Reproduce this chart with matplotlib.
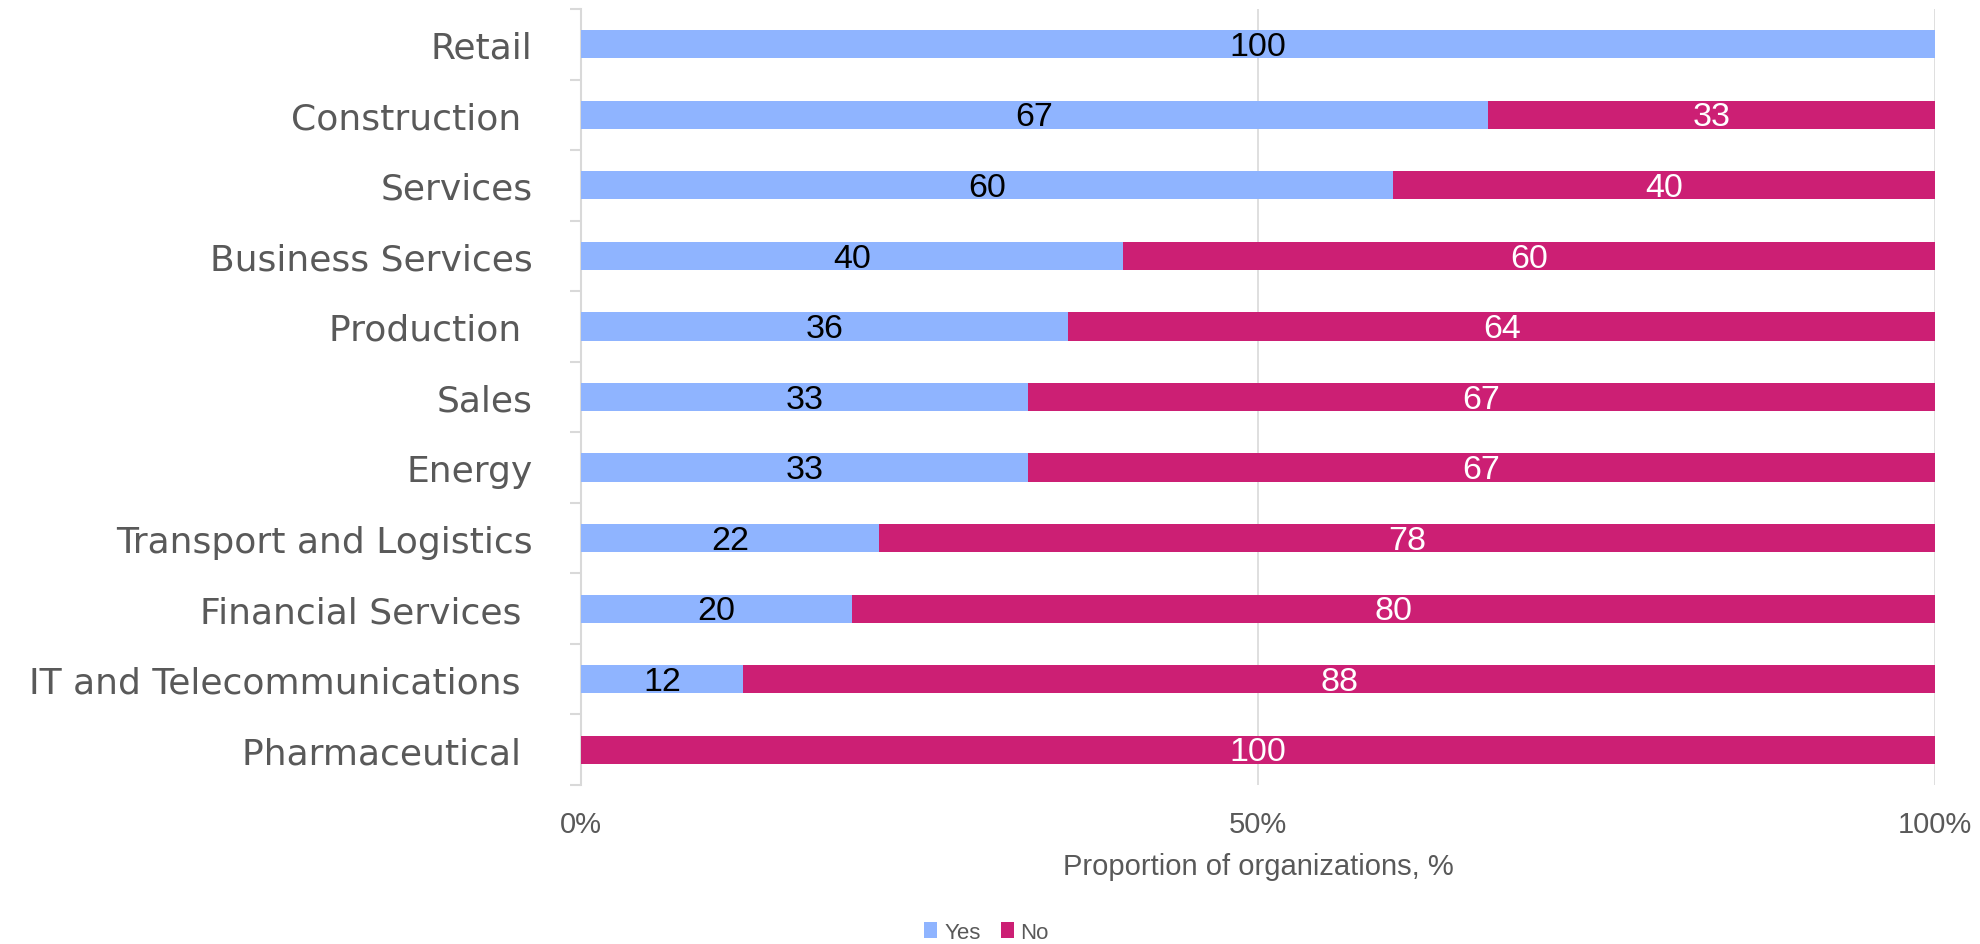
import matplotlib.pyplot as plt

categories = ['Retail', 'Construction ', 'Services', 'Business Services', 'Production ',
              'Sales', 'Energy', 'Transport and Logistics', 'Financial Services ',
              'IT and Telecommunications ', 'Pharmaceutical ']
yes_vals = [100, 67, 60, 40, 36, 33, 33, 22, 20, 12, 0]
no_vals = [0, 33, 40, 60, 64, 67, 67, 78, 80, 88, 100]

blue = '#8fb4ff'
pink = '#cc1f74'

fig = plt.figure(figsize=(19.81, 9.45), dpi=100)
ax = fig.add_axes([581 / 1981, 1 - 786 / 945, (1935 - 581) / 1981, (786 - 10) / 945])

y = list(range(len(categories)))
ax.barh(y, yes_vals, height=0.4, color=blue, label='Yes', zorder=3)
ax.barh(y, no_vals, left=yes_vals, height=0.4, color=pink, label='No', zorder=3)

for i in y:
    if yes_vals[i] > 0:
        ax.text(yes_vals[i] / 2, i + 0.03, str(yes_vals[i]), ha='center', va='center',
                fontsize=24.5, color='black', family='Liberation Sans', zorder=4)
    if no_vals[i] > 0:
        ax.text(yes_vals[i] + no_vals[i] / 2, i + 0.03, str(no_vals[i]), ha='center', va='center',
                fontsize=24.5, color='white', family='Liberation Sans', zorder=4)

ax.set_xlim(0, 100)
ax.set_ylim(len(categories) - 0.5, -0.5)
ax.set_xticks([0, 50, 100])
ax.set_xticklabels(['0%', '50%', '100%'], family='Liberation Sans', fontsize=21, color='#595959')
ax.tick_params(axis='x', length=0, pad=18)
ax.grid(axis='x', color='#d9d9d9', linewidth=1.2, zorder=0)

ax.set_yticks(y)
ax.set_yticklabels(categories, family='DejaVu Sans', fontsize=26, color='#595959')
ax.tick_params(axis='y', length=0, pad=35)
# separators between categories on the left spine
ax.set_yticks([i - 0.5 for i in range(len(categories) + 1)], minor=True)
ax.tick_params(axis='y', which='minor', length=8, color='#d9d9d9', width=1.5)

for s in ['top', 'right', 'bottom']:
    ax.spines[s].set_visible(False)
ax.spines['left'].set_color('#d9d9d9')
ax.spines['left'].set_linewidth(1.5)

ax.set_xlabel('Proportion of organizations, %', family='Liberation Sans', fontsize=21,
              color='#595959', labelpad=10)

fig.legend(loc='lower center', bbox_to_anchor=(0.498, -0.02), ncol=2, frameon=False,
           prop={'family': 'Liberation Sans', 'size': 16}, handlelength=0.6, handleheight=0.7,
           handletextpad=0.3, columnspacing=0.9, labelcolor='#595959')

fig.savefig('out.png', dpi=100)
